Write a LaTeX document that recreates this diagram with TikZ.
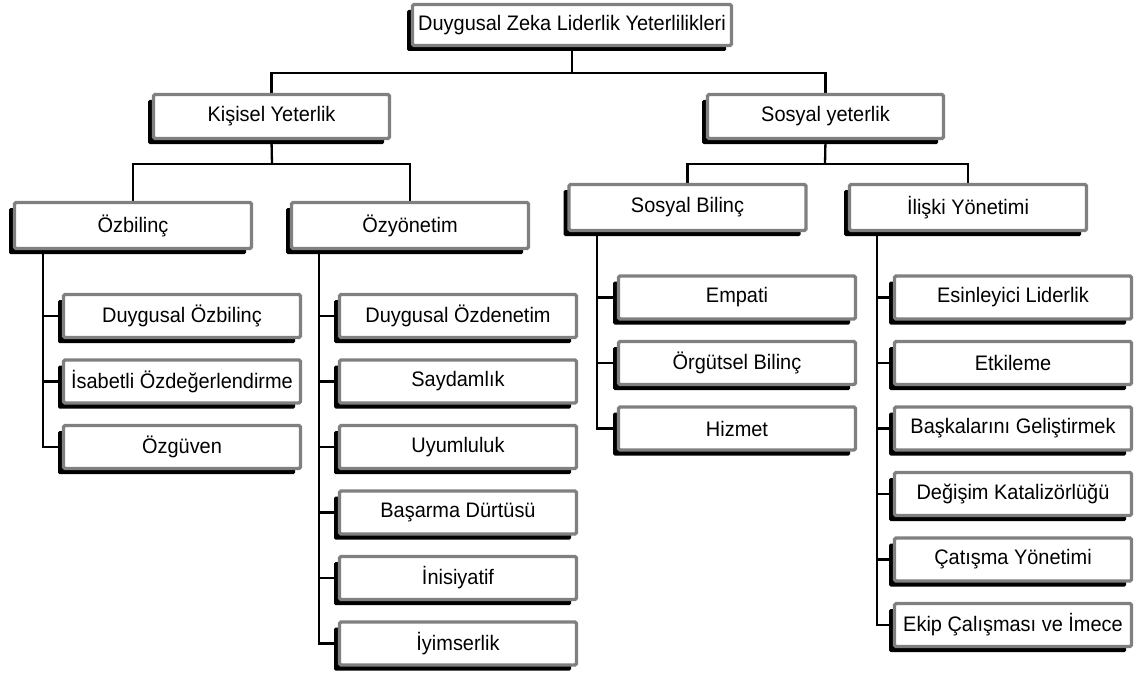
\documentclass[tikz,border=0pt]{standalone}
\usepackage{fontspec}
\setmainfont{Liberation Sans}[FakeStretch=0.95]
\usetikzlibrary{shadows,backgrounds}
\definecolor{boxgray}{RGB}{128,128,128}
\tikzset{
  box/.style={draw=boxgray, line width=3.2pt, fill=white, rounded corners=1.5pt,
    inner sep=0pt, font=\fontsize{21}{25}\selectfont,
    drop shadow={shadow xshift=-5.5pt, shadow yshift=-5.5pt, opacity=1, fill=black}},
  rootbox/.style={box, minimum width=319pt, minimum height=41pt},
  lvlone/.style={box, minimum width=236pt, minimum height=44pt},
  lvltwo/.style={box, minimum width=237pt, minimum height=46pt},
  leaf/.style={box, minimum width=237pt, minimum height=43pt},
  conn/.style={draw=black, line width=2.3pt}
}
\begin{document}
\begin{tikzpicture}[x=1pt, y=-1pt]
\useasboundingbox (0,0) rectangle (1144,677);
% nodes
\node[rootbox] (root) at (572,25) {Duygusal Zeka Liderlik Yeterlilikleri};
\node[lvlone] (kis) at (271.5,116.5) {Kişisel Yeterlik};
\node[lvlone] (sos) at (825.5,116.5) {Sosyal yeterlik};
\node[lvltwo] (ozb) at (133,225.5) {Özbilinç};
\node[lvltwo] (ozy) at (410,225.5) {Özyönetim};
\node[lvltwo] (sbi) at (687.5,207.5) {Sosyal Bilinç};
\node[lvltwo] (iliski) at (968,207.5) {İlişki Yönetimi};
% Özbilinç children
\node[leaf] (a1) at (182,316) {Duygusal Özbilinç};
\node[leaf] (a2) at (182,381.5) {İsabetli Özdeğerlendirme};
\node[leaf] (a3) at (182,447) {Özgüven};
% Özyönetim children
\node[leaf] (b1) at (458,316) {Duygusal Özdenetim};
\node[leaf] (b2) at (458,381.5) {Saydamlık};
\node[leaf] (b3) at (458,447) {Uyumluluk};
\node[leaf] (b4) at (458,512.5) {Başarma Dürtüsü};
\node[leaf] (b5) at (458,578) {İnisiyatif};
\node[leaf] (b6) at (458,643.5) {İyimserlik};
% Sosyal Bilinç children
\node[leaf] (c1) at (737,297.5) {Empati};
\node[leaf] (c2) at (737,363) {Örgütsel Bilinç};
\node[leaf] (c3) at (737,428.5) {Hizmet};
% İlişki Yönetimi children
\node[leaf] (d1) at (1013,297.5) {Esinleyici Liderlik};
\node[leaf] (d2) at (1013,363) {Etkileme};
\node[leaf] (d3) at (1013,428.5) {Başkalarını Geliştirmek};
\node[leaf] (d4) at (1013,494) {Değişim Katalizörlüğü};
\node[leaf] (d5) at (1013,559.5) {Çatışma Yönetimi};
\node[leaf] (d6) at (1013,625) {Ekip Çalışması ve İmece};
% connectors
\begin{pgfonlayer}{background}
\coordinate (j0) at (572,73);
\coordinate (j1) at (272,164);
\coordinate (j2) at (825,164);
\coordinate (ta) at (43,0);
\coordinate (tb) at (319,0);
\coordinate (tc) at (597,0);
\coordinate (td) at (877,0);
\draw[conn] (root.south) -- (j0);
\draw[conn] (j0) -| (kis.north);
\draw[conn] (j0) -| (sos.north);
\draw[conn] (kis.south) -- (j1);
\draw[conn] (j1) -| (ozb.north);
\draw[conn] (j1) -| (ozy.north);
\draw[conn] (sos.south) -- (j2);
\draw[conn] (j2) -| (sbi.north);
\draw[conn] (j2) -| (iliski.north);
\draw[conn] (ta |- ozb.south) |- (a3.west);
\foreach \n in {a1,a2} \draw[conn] (ta |- \n.west) -- (\n.west);
\draw[conn] (tb |- ozy.south) |- (b6.west);
\foreach \n in {b1,b2,b3,b4,b5} \draw[conn] (tb |- \n.west) -- (\n.west);
\draw[conn] (tc |- sbi.south) |- (c3.west);
\foreach \n in {c1,c2} \draw[conn] (tc |- \n.west) -- (\n.west);
\draw[conn] (td |- iliski.south) |- (d6.west);
\foreach \n in {d1,d2,d3,d4,d5} \draw[conn] (td |- \n.west) -- (\n.west);
\end{pgfonlayer}
\end{tikzpicture}
\end{document}
